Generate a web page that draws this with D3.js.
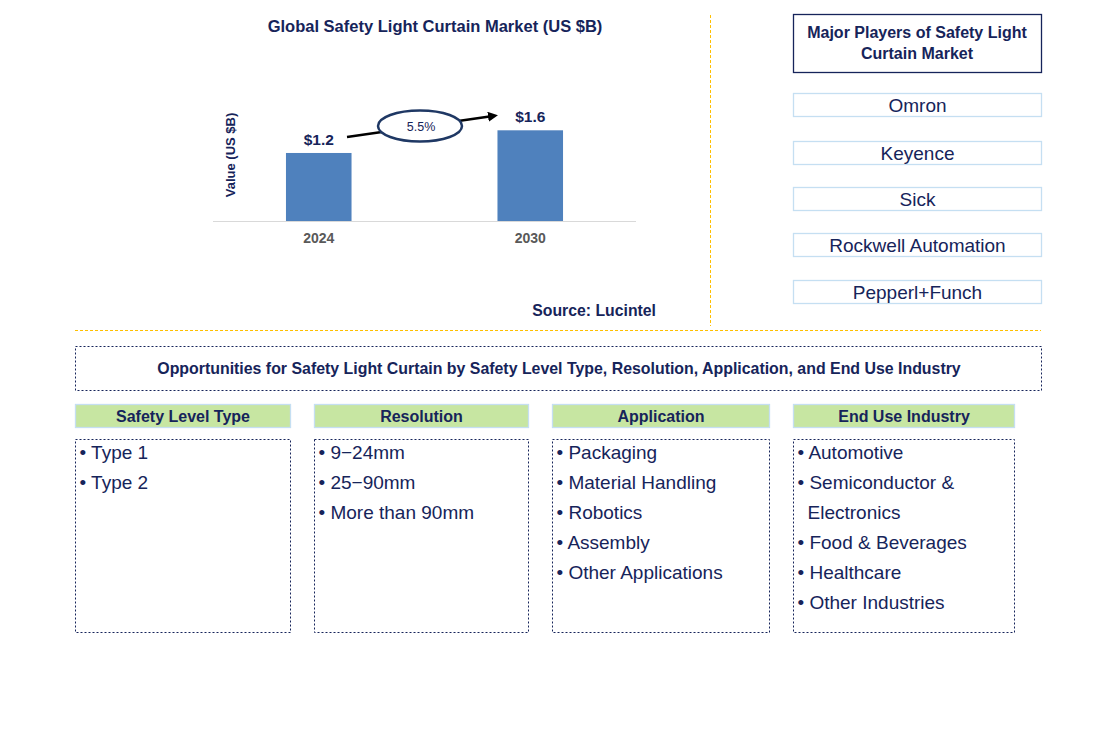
<html>
<head>
<script src="https://d3js.org/d3.v7.min.js"></script>
<style>
  body { margin: 0; background: #fff; }
  text { font-family: Arial, "Liberation Sans", sans-serif; }
</style>
</head>
<body>
<svg id="chart" width="1106" height="743"></svg>
<script>
const years = ["2024", "2030"];
const values = [1.2, 1.6];
const valueLabels = ["$1.2", "$1.6"];
const cagr = "5.5%";
const players = ["Omron", "Keyence", "Sick", "Rockwell Automation", "Pepperl+Funch"];
const segments = ["Safety Level Type", "Resolution", "Application", "End Use Industry"];
const segmentItems = [
  ["Type 1", "Type 2"],
  ["9\u221224mm", "25\u221290mm", "More than 90mm"],
  ["Packaging", "Material Handling", "Robotics", "Assembly", "Other Applications"],
  ["Automotive", ["Semiconductor &", "Electronics"], "Food & Beverages", "Healthcare", "Other Industries"]
];

const navy = "#16245a";
const svg = d3.select("#chart");

// bar chart
const x = d3.scaleBand().domain(years).range([213, 636]).paddingInner(0.69).paddingOuter(0.345);
const y = d3.scaleLinear().domain([0, 1.6]).range([221, 130.3]);

svg.append("text").attr("x", 435).attr("y", 32).attr("text-anchor", "middle")
  .attr("font-size", 16.5).attr("font-weight", "bold").attr("fill", navy)
  .text("Global Safety Light Curtain Market (US $B)");

svg.selectAll("rect.bar").data(values).join("rect")
  .attr("class", "bar")
  .attr("x", (d, i) => x(years[i]))
  .attr("y", d => y(d))
  .attr("width", x.bandwidth())
  .attr("height", d => y(0) - y(d))
  .attr("fill", "#4f81bd");

svg.append("line").attr("x1", 213).attr("x2", 636).attr("y1", 221.5).attr("y2", 221.5)
  .attr("stroke", "#d9d9d9").attr("stroke-width", 1.2);

svg.selectAll("text.year").data(years).join("text")
  .attr("class", "year")
  .attr("x", d => x(d) + x.bandwidth() / 2).attr("y", 243)
  .attr("text-anchor", "middle").attr("font-size", 14).attr("font-weight", "bold")
  .attr("fill", "#595959").text(d => d);

svg.selectAll("text.val").data(values).join("text")
  .attr("class", "val")
  .attr("x", (d, i) => x(years[i]) + x.bandwidth() / 2).attr("y", d => y(d) - 8)
  .attr("text-anchor", "middle").attr("font-size", 15.5).attr("font-weight", "bold")
  .attr("fill", navy).text((d, i) => valueLabels[i]);

svg.append("text").attr("transform", "translate(235,155) rotate(-90)")
  .attr("text-anchor", "middle").attr("font-size", 13).attr("font-weight", "bold")
  .attr("fill", navy).text("Value (US $B)");

// growth arrow
svg.append("defs").append("marker").attr("id", "arrow")
  .attr("viewBox", "0 0 10 10").attr("refX", 5).attr("refY", 5)
  .attr("markerWidth", 4).attr("markerHeight", 4).attr("orient", "auto")
  .append("path").attr("d", "M0,0 L10,5 L0,10 z").attr("fill", "#000");

svg.append("line").attr("x1", 347).attr("y1", 137).attr("x2", 493).attr("y2", 116)
  .attr("stroke", "#000").attr("stroke-width", 2.5).attr("marker-end", "url(#arrow)");

svg.append("ellipse").attr("cx", 420).attr("cy", 126).attr("rx", 42).attr("ry", 15.5)
  .attr("fill", "#fff").attr("stroke", "#1f3864").attr("stroke-width", 2.5);
svg.append("text").attr("x", 421).attr("y", 130.5).attr("text-anchor", "middle")
  .attr("font-size", 12.5).attr("fill", navy).text(cagr);

svg.append("text").attr("x", 656).attr("y", 316).attr("text-anchor", "end")
  .attr("font-size", 15.8).attr("font-weight", "bold").attr("fill", navy).text("Source: Lucintel");

// separators
svg.append("line").attr("x1", 710.5).attr("x2", 710.5).attr("y1", 15).attr("y2", 326)
  .attr("stroke", "#ffc000").attr("stroke-width", 1).attr("stroke-dasharray", "3,2");
svg.append("line").attr("x1", 75).attr("x2", 1041).attr("y1", 330.5).attr("y2", 330.5)
  .attr("stroke", "#ffc000").attr("stroke-width", 1).attr("stroke-dasharray", "3,2");

// major players
svg.append("rect").attr("x", 793.5).attr("y", 14.5).attr("width", 248).attr("height", 58)
  .attr("fill", "#fff").attr("stroke", navy).attr("stroke-width", 1.3);
svg.append("text").attr("x", 917).attr("y", 38).attr("text-anchor", "middle")
  .attr("font-size", 16).attr("font-weight", "bold").attr("fill", navy).text("Major Players of Safety Light");
svg.append("text").attr("x", 917).attr("y", 59).attr("text-anchor", "middle")
  .attr("font-size", 16).attr("font-weight", "bold").attr("fill", navy).text("Curtain Market");

const playerY = [93, 141, 187, 233, 280];
const pg = svg.selectAll("g.player").data(players).join("g").attr("class", "player")
  .attr("transform", (d, i) => `translate(793.5,${playerY[i] + 0.5})`);
pg.append("rect").attr("width", 248).attr("height", 23)
  .attr("fill", "#fff").attr("stroke", "#c5dff2").attr("stroke-width", 1.3);
pg.append("text").attr("x", 124).attr("y", 18.5).attr("text-anchor", "middle")
  .attr("font-size", 19).attr("fill", navy).text(d => d);

// opportunities
svg.append("rect").attr("x", 75.5).attr("y", 346.5).attr("width", 966).attr("height", 44)
  .attr("fill", "none").attr("stroke", navy).attr("stroke-width", 1).attr("stroke-dasharray", "2,2");
svg.append("text").attr("x", 559).attr("y", 373.5).attr("text-anchor", "middle")
  .attr("font-size", 15.9).attr("font-weight", "bold").attr("fill", navy)
  .text("Opportunities for Safety Light Curtain by Safety Level Type, Resolution, Application, and End Use Industry");

const colX = [75, 314, 552, 793];
const colW = [215, 214, 217, 221];

const cg = svg.selectAll("g.col").data(segments).join("g").attr("class", "col")
  .attr("transform", (d, i) => `translate(${colX[i] + 0.5},0)`);

cg.append("rect").attr("y", 404.5).attr("width", (d, i) => colW[i]).attr("height", 23)
  .attr("fill", "#c7e6a2").attr("stroke", "#c5dff2").attr("stroke-width", 1.3);
cg.append("text").attr("x", (d, i) => colW[i] / 2).attr("y", 421.5).attr("text-anchor", "middle")
  .attr("font-size", 16).attr("font-weight", "bold").attr("fill", navy).text(d => d);
cg.append("rect").attr("y", 439.5).attr("width", (d, i) => colW[i]).attr("height", 193)
  .attr("fill", "none").attr("stroke", navy).attr("stroke-width", 1).attr("stroke-dasharray", "2,2");

cg.each(function (d, i) {
  const g = d3.select(this);
  let row = 0;
  segmentItems[i].forEach(item => {
    const lines = Array.isArray(item) ? item : [item];
    lines.forEach((ln, k) => {
      g.append("text").attr("x", k === 0 ? 4 : 14).attr("y", 459 + row * 30)
        .attr("font-size", 19).attr("fill", navy)
        .text(k === 0 ? "\u2022 " + ln : ln);
      row++;
    });
  });
});
</script>
</body>
</html>
